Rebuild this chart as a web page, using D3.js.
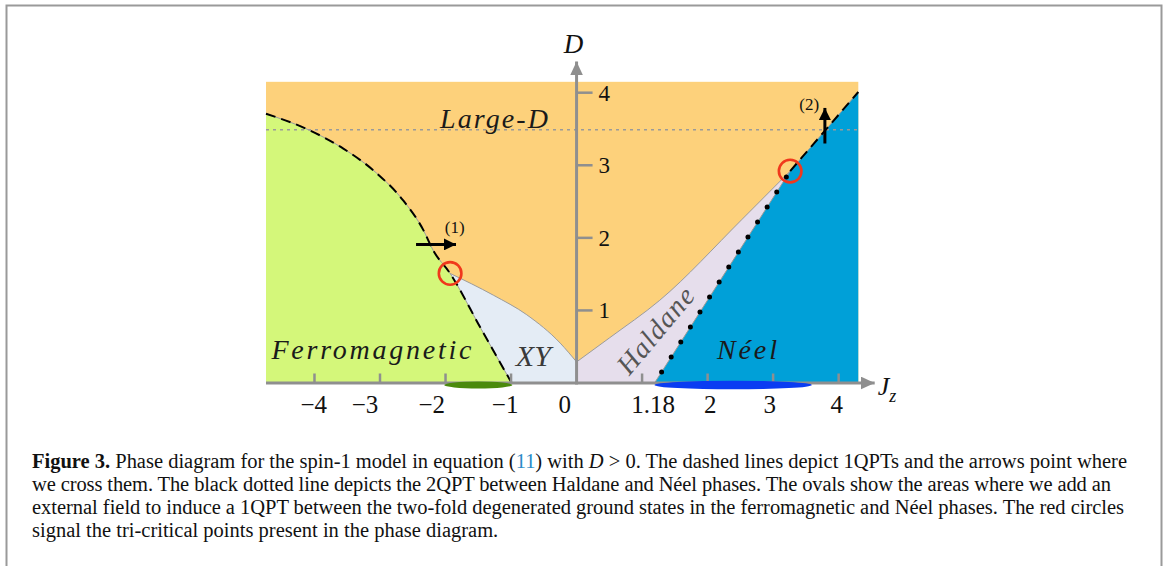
<!DOCTYPE html>
<html><head><meta charset="utf-8">
<script src="https://cdn.jsdelivr.net/npm/d3@7"></script>
<style>body{margin:0;background:#fff}svg{display:block}</style>
</head><body>
<svg id="c" width="1168" height="566"></svg>
<script>
// ---- data ----
const jzDomain = [-4.74, 4.30];
const dDomain = [0, 4.15];
const jzTicks = [-4, -3, -2, -1, 1, 2, 3, 4];
// tick labels and where they sit along Jz (as placed in the original figure)
const jzLabelTexts = ["−4", "−3", "−2", "−1", "0", "1.18", "2", "3", "4"];
const jzLabelPositions = [-4.01, -3.23, -2.21, -1.09, -0.18, 1.17, 2.04, 2.95, 3.97];
const dTicks = [1, 2, 3, 4];
const dTickLabels = ["1", "2", "3", "4"];
// phase boundaries [Jz, D]
const ferroBoundary = [[-4.74,3.71],[-4.07,3.48],[-3.56,3.23],[-3.05,2.89],[-2.65,2.52],[-2.34,2.11],[-2.19,1.83],[-1.93,1.51],[-1.46,0.75],[-0.99,0]];
const xyLargeDBoundary = [[-1.93,1.51],[-1.27,1.21],[-0.76,0.94],[-0.25,0.55],[0,0.29]];
const haldaneLargeDBoundary = [[0,0.29],[0.5,0.62],[1.27,1.14],[2.52,2.25],[3.26,2.92]];
const haldaneNeelBoundary = [[1.19,0],[3.26,2.92]];
const largeDNeelBoundary = [[3.26,2.92],[4.30,4.01]];
const tricriticalPoints = [[-1.93,1.51],[3.26,2.92]];
const largeDLevel = 3.49;
const ovals = [{from:-2.02, to:-0.98, color:"#4a8a0c"}, {from:1.19, to:3.59, color:"#0a3cf2"}];
const crossArrows = [{from:[-2.45,1.91], to:[-1.84,1.91], label:"(1)", at:[-1.86,2.07]},
                     {from:[3.79,3.30], to:[3.79,3.79], label:"(2)", at:[3.55,3.76]}];
const phaseLabels = [
  {text:"Large-D", at:[-1.26,3.52], len:108, size:28, color:"#1a1a1a", rot:0},
  {text:"Ferromagnetic", at:[-3.13,0.33], len:200, size:28, color:"#1a1a1a", rot:0},
  {text:"XY", at:[-0.66,0.23], len:0, size:30, color:"#3a3a3a", rot:0},
  {text:"Néel", at:[2.60,0.33], len:60, size:28, color:"#1a1a1a", rot:0},
  {text:"Haldane", at:[1.21,0.72], len:104, size:28, color:"#555", rot:-50}
];
const captionLines = [
  [{t:"Figure 3.", b:1},{t:" Phase diagram for the spin-1 model in equation ("},{t:"11",c:"#2a8bc8"},{t:") with "},{t:"D",i:1},{t:" > 0. The dashed lines depict 1QPTs and the arrows point where"}],
  [{t:"we cross them. The black dotted line depicts the 2QPT between Haldane and Néel phases. The ovals show the areas where we add an"}],
  [{t:"external field to induce a 1QPT between the two-fold degenerated ground states in the ferromagnetic and Néel phases. The red circles"}],
  [{t:"signal the tri-critical points present in the phase diagram."}]
];
const captionWidths = [1095, 1079, 1092, 0];

// ---- drawing ----
const svg = d3.select("#c");
const x = d3.scaleLinear().domain(jzDomain).range([266, 858.3]);
const y = d3.scaleLinear().domain([0, 4]).range([383, 92.7]);
const serif = "'Liberation Serif', 'Times New Roman', serif";
const axisGray = "#8f8f8f";

// frame
svg.append("path").attr("d", "M6.5,566V5.5H1161.5V566").attr("fill","none").attr("stroke","#9a9a9a").attr("stroke-width",2);

const defs = svg.append("defs");
function marker(id, color, len, hw){
  defs.append("marker").attr("id", id).attr("markerUnits","userSpaceOnUse")
    .attr("viewBox", `${-len} ${-hw} ${len} ${2*hw}`).attr("refX",0).attr("refY",0)
    .attr("markerWidth", len).attr("markerHeight", 2*hw).attr("orient","auto")
    .append("path").attr("d", `M0,0L${-len},${-hw}L${-len},${hw}Z`).attr("fill", color);
}
marker("axArrow", axisGray, 14, 6.5);
marker("bkArrow", "#000", 12, 6);

const mono = d3.line().x(d=>x(d[0])).y(d=>y(d[1])).curve(d3.curveMonotoneX);
const lin = d3.line().x(d=>x(d[0])).y(d=>y(d[1]));
const P = (jz,d) => `${x(jz)},${y(d)}`;

// background (Large-D)
svg.append("rect").attr("x", x(jzDomain[0])).attr("y", y(dDomain[1]))
  .attr("width", x(jzDomain[1]) - x(jzDomain[0])).attr("height", y(0) - y(dDomain[1]))
  .attr("fill", "#fdd17b");
// XY region
svg.append("path").attr("fill","#e4ecf5")
  .attr("d", mono(xyLargeDBoundary) + "L" + P(0,0) + "L" + P(-1.5,0) + "Z");
// Haldane region
svg.append("path").attr("fill","#e6deec")
  .attr("d", mono(haldaneLargeDBoundary) + "L" + P(haldaneNeelBoundary[0][0],0) + "L" + P(0,0) + "Z");
// Neel region
svg.append("path").attr("fill","#00a0d8")
  .attr("d", "M" + P(haldaneNeelBoundary[0][0],0) + "L" + P(jzDomain[1],0) + "L" + P(largeDNeelBoundary[1][0], largeDNeelBoundary[1][1])
    + "L" + P(largeDNeelBoundary[0][0], largeDNeelBoundary[0][1]) + "Z");
// Ferro region
svg.append("path").attr("fill","#d4f77a")
  .attr("d", "M" + P(jzDomain[0],0) + "L" + mono(ferroBoundary).slice(1) + "Z");

// thin gray boundaries
[ [mono, ferroBoundary], [mono, xyLargeDBoundary], [mono, haldaneLargeDBoundary], [lin, haldaneNeelBoundary], [lin, largeDNeelBoundary] ]
  .forEach(([g, pts]) => svg.append("path").attr("d", g(pts)).attr("fill","none").attr("stroke","#9c9c9c").attr("stroke-width",1));

// horizontal dotted line at D level
svg.append("line").attr("x1", x(jzDomain[0])).attr("x2", x(jzDomain[1])).attr("y1", y(largeDLevel)).attr("y2", y(largeDLevel))
  .attr("stroke","#9a9a9a").attr("stroke-width",1.6).attr("stroke-dasharray","3,4");

// dashed 1QPT lines
[ [mono, ferroBoundary], [lin, largeDNeelBoundary] ].forEach(([g, pts]) =>
  svg.append("path").attr("d", g(pts)).attr("fill","none").attr("stroke","#000").attr("stroke-width",2).attr("stroke-dasharray","10,6"));

// dotted 2QPT line
svg.append("path").attr("d", lin(haldaneNeelBoundary)).attr("fill","none").attr("stroke","#000")
  .attr("stroke-width",5).attr("stroke-linecap","round").attr("stroke-dasharray","0,17.8").attr("stroke-dashoffset",-13.1);

// axes
svg.append("line").attr("x1", x(jzDomain[0])).attr("x2", x(4.55)).attr("y1", y(0)).attr("y2", y(0))
  .attr("stroke", axisGray).attr("stroke-width",3).attr("marker-end","url(#axArrow)");
svg.append("line").attr("x1", x(0)).attr("x2", x(0)).attr("y1", y(0)+1.5).attr("y2", y(4.43))
  .attr("stroke", axisGray).attr("stroke-width",3).attr("marker-end","url(#axArrow)");
svg.selectAll(".xt").data(jzTicks).join("line").attr("class","xt")
  .attr("x1", d=>x(d)).attr("x2", d=>x(d)).attr("y1", y(0)).attr("y2", y(0)-9.5)
  .attr("stroke", axisGray).attr("stroke-width",2.5);
svg.selectAll(".yt").data(dTicks).join("line").attr("class","yt")
  .attr("x1", x(0)).attr("x2", x(0)+16).attr("y1", d=>y(d)).attr("y2", d=>y(d))
  .attr("stroke", axisGray).attr("stroke-width",2.5);
svg.selectAll(".xl").data(jzLabelPositions).join("text").attr("class","xl")
  .attr("x", d=>x(d)).attr("y", 413).attr("text-anchor","middle")
  .attr("font-family", serif).attr("font-size", 25).attr("fill","#111")
  .text((d,i)=>jzLabelTexts[i]);
svg.selectAll(".yl").data(dTicks).join("text").attr("class","yl")
  .attr("x", x(0)+22).attr("y", d=>y(d)+8).attr("font-family", serif).attr("font-size", 23).attr("fill","#111")
  .text((d,i)=>dTickLabels[i]);
// axis titles
svg.append("text").attr("x", x(0)-3).attr("y", 53).attr("text-anchor","middle")
  .attr("font-family", serif).attr("font-style","italic").attr("font-size", 27).attr("fill","#111").text("D");
const jt = svg.append("text").attr("x", x(4.55)+3).attr("y", 395)
  .attr("font-family", serif).attr("font-style","italic").attr("font-size", 26).attr("fill","#111");
jt.append("tspan").text("J");
jt.append("tspan").attr("dy", 7).attr("font-size", 18).text("z");

// ovals
svg.selectAll(".ov").data(ovals).join("ellipse").attr("class","ov")
  .attr("cx", d=>(x(d.from)+x(d.to))/2).attr("cy", y(0)+2).attr("rx", d=>(x(d.to)-x(d.from))/2)
  .attr("ry", d=> d.to-d.from > 2 ? 4.3 : 3.5).attr("fill", d=>d.color);

// tri-critical circles
svg.selectAll(".tc").data(tricriticalPoints).join("circle").attr("class","tc")
  .attr("cx", d=>x(d[0])).attr("cy", d=>y(d[1])).attr("r", 11.3)
  .attr("fill","none").attr("stroke","#f0381c").attr("stroke-width",2.6);

// crossing arrows
crossArrows.forEach(a => {
  svg.append("line").attr("x1", x(a.from[0])).attr("y1", y(a.from[1])).attr("x2", x(a.to[0])).attr("y2", y(a.to[1]))
    .attr("stroke","#000").attr("stroke-width",3).attr("marker-end","url(#bkArrow)");
  svg.append("text").attr("x", x(a.at[0])).attr("y", y(a.at[1])).attr("text-anchor","middle")
    .attr("font-family", serif).attr("font-size", 17).attr("fill","#111").text(a.label);
});

// phase labels
phaseLabels.forEach(l => {
  const t = svg.append("text").attr("text-anchor","middle")
    .attr("font-family", serif).attr("font-style","italic").attr("font-size", l.size).attr("fill", l.color).text(l.text);
  if (l.len) t.attr("textLength", l.len).attr("lengthAdjust","spacing");
  if (l.rot) t.attr("transform", `translate(${x(l.at[0])},${y(l.at[1])}) rotate(${l.rot})`).attr("x",0).attr("y",9);
  else t.attr("x", x(l.at[0])).attr("y", y(l.at[1]));
});

// caption
captionLines.forEach((parts, i) => {
  const t = svg.append("text").attr("x", 32).attr("y", 468 + i*23)
    .attr("font-family", serif).attr("font-size", 20.5).attr("fill","#111");
  if (captionWidths[i]) t.attr("textLength", captionWidths[i]).attr("lengthAdjust","spacing");
  parts.forEach(p => {
    const s = t.append("tspan").text(p.t);
    if (p.b) s.attr("font-weight","bold");
    if (p.i) s.attr("font-style","italic");
    if (p.c) s.attr("fill", p.c);
  });
});
</script>
</body></html>
